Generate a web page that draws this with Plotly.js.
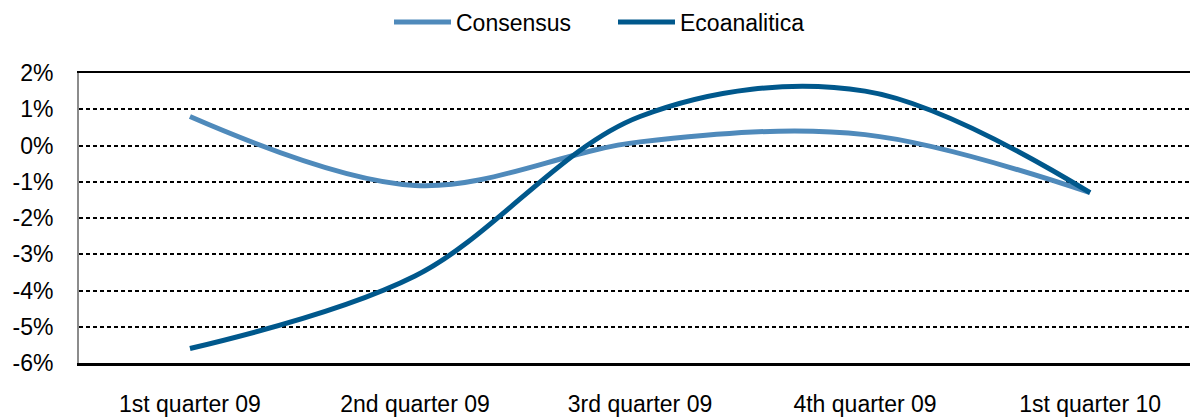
<!DOCTYPE html>
<html>
<head>
<meta charset="utf-8">
<script src="https://cdn.plot.ly/plotly-3.0.1.min.js"></script>
<style>
  html, body { margin: 0; padding: 0; background: #fff; }
  #chart { width: 1190px; height: 419px; }
</style>
</head>
<body>
<div id="chart"></div>
<script>
// Quarterly growth forecasts (%)
const quarters = ["1st quarter 09", "2nd quarter 09", "3rd quarter 09", "4th quarter 09", "1st quarter 10"];
const consensus = [0.8, -1.1, 0.1, 0.3, -1.3];
const ecoanalitica = [-5.6, -3.6, 0.8, 1.5, -1.3];
const seriesNames = ["Consensus", "Ecoanalitica"];
const seriesColors = ["#4f8abb", "#00588c"];
const yTicks = [-6, -5, -4, -3, -2, -1, 0, 1, 2];

const W = 1190, H = 419;
const margin = { l: 79, r: 0, t: 73, b: 56 };
const plotW = W - margin.l - margin.r;
const plotH = H - margin.t - margin.b;
const font = "Liberation Sans, Arial, sans-serif";
const fs = 23;

// pixel -> paper helpers for the hand-built legend
const px = x => (x - margin.l) / plotW;
const py = y => 1 - (y - margin.t) / plotH;

const traces = [consensus, ecoanalitica].map((vals, i) => ({
  x: quarters,
  y: vals,
  name: seriesNames[i],
  type: "scatter",
  mode: "lines",
  line: { color: seriesColors[i], width: 5, shape: "spline", smoothing: 1 },
  showlegend: false,
  hoverinfo: "x+y"
}));

// legend entries: short line swatch + label
const legendItems = [
  { x0: 394, x1: 451, tx: 454 },
  { x0: 618, x1: 675, tx: 678 }
];
const shapes = legendItems.map((it, i) => ({
  type: "line", xref: "paper", yref: "paper",
  x0: px(it.x0), x1: px(it.x1), y0: py(22), y1: py(22),
  line: { color: seriesColors[i], width: 5 }
}));
const annotations = legendItems.map((it, i) => ({
  xref: "paper", yref: "paper",
  x: px(it.tx), y: py(23), xanchor: "left", yanchor: "middle",
  text: seriesNames[i], showarrow: false,
  font: { family: font, size: fs, color: "#000" }
}));

const layout = {
  width: W, height: H,
  margin: margin,
  paper_bgcolor: "#fff", plot_bgcolor: "#fff",
  font: { family: font, size: fs, color: "#000" },
  showlegend: false,
  xaxis: {
    type: "category",
    range: [-0.493, 4.444],
    showgrid: false, zeroline: false,
    showline: true, mirror: true, linecolor: "#000", linewidth: 2.5,
    ticks: "", ticklabelstandoff: 19,
    tickfont: { family: font, size: fs, color: "#000" }
  },
  yaxis: {
    range: [-6, 2],
    tickvals: yTicks,
    ticktext: yTicks.map(v => v + "%"),
    showgrid: true, gridcolor: "#000", gridwidth: 2, griddash: "4px,3px",
    zeroline: false,
    showline: true, linecolor: "#8c8c8c", linewidth: 2,
    ticks: "", ticklabelstandoff: 19,
    tickfont: { family: font, size: fs, color: "#000" }
  },
  shapes: shapes,
  annotations: annotations
};

Plotly.newPlot("chart", traces, layout, { displayModeBar: false, staticPlot: true });
</script>
</body>
</html>
